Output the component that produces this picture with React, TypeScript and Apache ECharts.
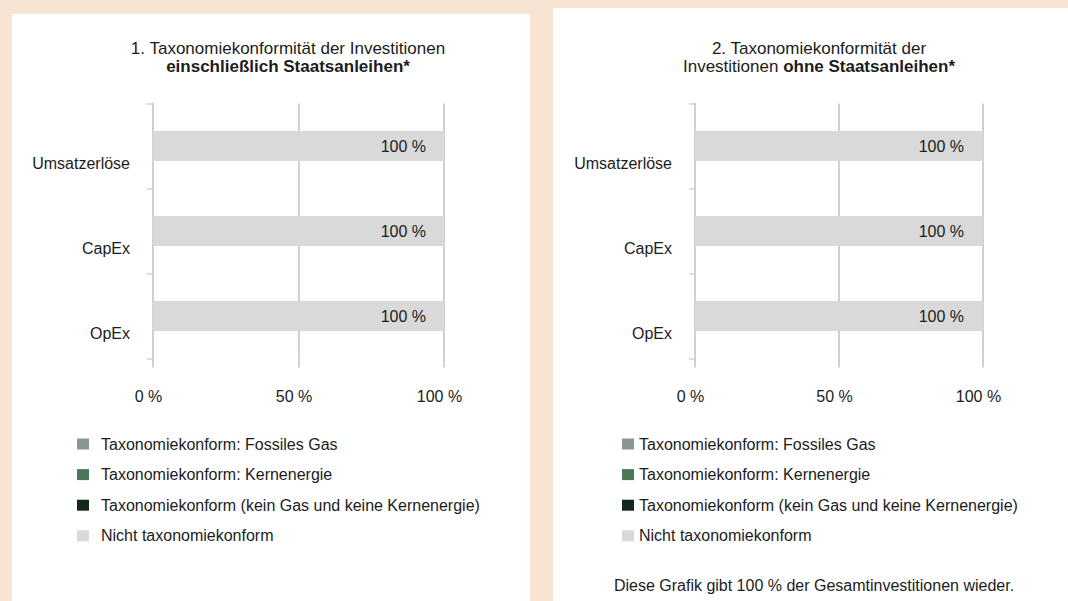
import React, { useEffect, useRef } from "react";
import * as echarts from "echarts";

const categories = ["Umsatzerlöse", "CapEx", "OpEx"];
const seriesNames = [
  "Taxonomiekonform: Fossiles Gas",
  "Taxonomiekonform: Kernenergie",
  "Taxonomiekonform (kein Gas und keine Kernenergie)",
  "Nicht taxonomiekonform",
];
const seriesColors = ["#8b978e", "#4c7859", "#14271b", "#d9d9d9"];
// Chart 1: including sovereign bonds
const chart1Fossil = [0, 0, 0];
const chart1Nuclear = [0, 0, 0];
const chart1Aligned = [0, 0, 0];
const chart1NotAligned = [100, 100, 100];
// Chart 2: excluding sovereign bonds
const chart2Fossil = [0, 0, 0];
const chart2Nuclear = [0, 0, 0];
const chart2Aligned = [0, 0, 0];
const chart2NotAligned = [100, 100, 100];
const xTicks = { min: 0, max: 100, interval: 50 };

const FONT = "'Liberation Sans', Arial, sans-serif";
const TEXT = "#1c1c1c";
const GRID_C = "#d0d0d0";

export default function App() {
  const ref = useRef<HTMLDivElement>(null);
  useEffect(() => {
    if (!ref.current) return;
    const chart = echarts.init(ref.current, undefined, { renderer: "svg" });

    const grids = [
      { left: 153, top: 103.5, width: 291, height: 255 },
      { left: 695, top: 103.5, width: 288, height: 255 },
    ];
    const xAxis = grids.map((_, i) => ({
      type: "value",
      gridIndex: i,
      min: xTicks.min,
      max: xTicks.max,
      interval: xTicks.interval,
      axisLine: { show: false },
      axisTick: { show: true, length: 9, lineStyle: { color: GRID_C, width: 2 } },
      splitLine: { show: true, lineStyle: { color: GRID_C, width: 2 } },
      axisLabel: {
        formatter: "{value} %",
        fontSize: 16,
        lineHeight: 16,
        color: TEXT,
        fontFamily: FONT,
        margin: 30,
        padding: [0, 9, 0, 0],
      },
    }));
    const yAxis = grids.map((_, i) => ({
      type: "category",
      gridIndex: i,
      data: categories,
      inverse: true,
      axisLine: { show: true, lineStyle: { color: GRID_C, width: 2 } },
      axisTick: { show: true, length: 6, lineStyle: { color: GRID_C, width: 1.5 } },
      axisLabel: {
        formatter: (v: string) => `{a|${v}}`,
        margin: 23,
        rich: {
          a: {
            fontSize: 16,
            lineHeight: 16,
            color: TEXT,
            fontFamily: FONT,
            padding: [34, 0, 0, 0],
          },
        },
      },
    }));

    const data1 = [chart1Fossil, chart1Nuclear, chart1Aligned, chart1NotAligned];
    const data2 = [chart2Fossil, chart2Nuclear, chart2Aligned, chart2NotAligned];
    const mkSeries = (datasets: number[][], idx: number, dist: number) =>
      datasets.map((d, k) => ({
        type: "bar",
        name: seriesNames[k],
        xAxisIndex: idx,
        yAxisIndex: idx,
        stack: "s" + idx,
        barWidth: 30,
        data: d,
        itemStyle: { color: seriesColors[k] },
        label: {
          show: k === 3,
          position: "insideRight",
          distance: dist,
          formatter: "{c} %",
          fontSize: 16,
          color: TEXT,
          fontFamily: FONT,
        },
      }));

    const legendBase = {
      orient: "vertical",
      top: 431,
      icon: "rect",
      itemWidth: 12,
      itemHeight: 11,
      itemGap: 14.6,
      data: seriesNames,
      selectedMode: false,
      textStyle: { fontSize: 16, lineHeight: 16, color: TEXT, fontFamily: FONT },
    };

    const titleStyle = {
      fontSize: 17,
      fontWeight: "normal",
      color: TEXT,
      fontFamily: FONT,
      lineHeight: 18,
      rich: { b: { fontSize: 17, fontWeight: "bold", color: TEXT, fontFamily: FONT, lineHeight: 18 } },
    };

    chart.setOption({
      animation: false,
      backgroundColor: "#f8e4d3",
      textStyle: { fontFamily: FONT },
      title: [
        {
          text: "1. Taxonomiekonformität der Investitionen\n{b|einschließlich Staatsanleihen*}",
          left: 283,
          top: 34,
          textAlign: "center",
          textStyle: titleStyle,
        },
        {
          text: "2. Taxonomiekonformität der\nInvestitionen {b|ohne Staatsanleihen*}",
          left: 814,
          top: 34,
          textAlign: "center",
          textStyle: titleStyle,
        },
      ],
      legend: [
        { ...legendBase, left: 72, textStyle: { ...legendBase.textStyle, padding: [0, 0, 0, 7] } },
        { ...legendBase, left: 617 },
      ],
      grid: grids,
      xAxis,
      yAxis,
      series: [...mkSeries(data1, 0, 18), ...mkSeries(data2, 1, 19)],
      graphic: [
        { type: "rect", z: -100, shape: { x: 12, y: 14, width: 518, height: 590 }, style: { fill: "#ffffff" } },
        { type: "rect", z: -100, shape: { x: 553, y: 8, width: 520, height: 600 }, style: { fill: "#ffffff" } },
        {
          type: "text",
          x: 814,
          y: 585,
          style: {
            text: "Diese Grafik gibt 100 % der Gesamtinvestitionen wieder.",
            fontSize: 16,
            fill: TEXT,
            fontFamily: FONT,
            align: "center",
            verticalAlign: "middle",
          },
        },
      ],
    });
    return () => chart.dispose();
  }, []);
  return (
    <div
      ref={ref}
      style={{ position: "fixed", left: 0, top: 0, width: 1068, height: 601 }}
    />
  );
}
